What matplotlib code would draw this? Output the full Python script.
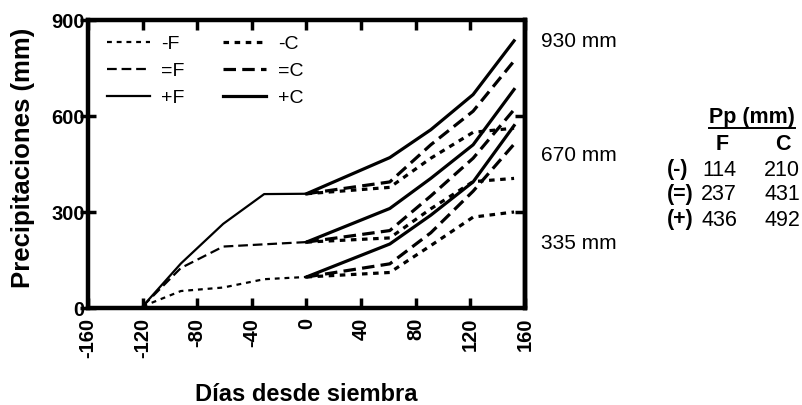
import matplotlib
matplotlib.use('Agg')
import matplotlib.pyplot as plt
from matplotlib.lines import Line2D

plt.rcParams['font.family'] = ['Liberation Sans', 'DejaVu Sans']
plt.rcParams['lines.scale_dashes'] = False
plt.rcParams['axes.unicode_minus'] = False

# pre-sowing (barbecho, thin lines)
dias_pre = [-120, -92, -61, -31, 0]
pre_menos_F = [5, 53, 64, 90, 97]
pre_igual_F = [5, 125, 192, 199, 206]
pre_mas_F = [5, 139, 263, 356, 357]

# post-sowing (cultivo, thick lines), one set per starting level
dias_post = [0, 61, 91, 122, 152]
bajo_menos_C = [97, 111, 195, 284, 300]
bajo_igual_C = [97, 138, 235, 365, 512]
bajo_mas_C = [97, 200, 290, 394, 570]
medio_menos_C = [206, 219, 310, 395, 405]
medio_igual_C = [206, 242, 350, 468, 620]
medio_mas_C = [206, 311, 405, 510, 683]
alto_menos_C = [357, 377, 468, 549, 562]
alto_igual_C = [357, 394, 510, 615, 772]
alto_mas_C = [357, 470, 557, 667, 835]

totales = ['930 mm', '670 mm', '335 mm']
totales_y = [834, 478, 201]

filas = ['(-)', '(=)', '(+)']
pp_F = [114, 237, 436]
pp_C = [210, 431, 492]

W, H = 803, 405
fig = plt.figure(figsize=(W / 100, H / 100), dpi=100)
ax = fig.add_axes([88 / W, 1 - 308 / H, 437 / W, 288 / H])

thin = 1.6
thick = 2.3
sty_menosF = dict(color='black', lw=thin, dashes=(3.5, 3.5))
sty_igualF = dict(color='black', lw=thin, dashes=(7, 3.5))
sty_masF = dict(color='black', lw=thin)
sty_menosC = dict(color='black', lw=thick, dashes=(4, 4))
sty_igualC = dict(color='black', lw=thick, dashes=(9, 4.5))
sty_masC = dict(color='black', lw=thick)

h1, = ax.plot(dias_pre, pre_menos_F, label='-F', **sty_menosF)
h2, = ax.plot(dias_pre, pre_igual_F, label='=F', **sty_igualF)
h3, = ax.plot(dias_pre, pre_mas_F, label='+F', **sty_masF)

for s in [bajo_menos_C, medio_menos_C, alto_menos_C]:
    h4, = ax.plot(dias_post, s, label='-C', **sty_menosC)
for s in [bajo_igual_C, medio_igual_C, alto_igual_C]:
    h5, = ax.plot(dias_post, s, label='=C', **sty_igualC)
for s in [bajo_mas_C, medio_mas_C, alto_mas_C]:
    h6, = ax.plot(dias_post, s, label='+C', **sty_masC)

ax.set_xlim(-160, 160)
ax.set_ylim(0, 900)
ax.set_xticks(range(-160, 161, 40))
ax.set_yticks([0, 300, 600, 900])

for sp in ax.spines.values():
    sp.set_linewidth(3.2)

ax.tick_params(axis='x', direction='in', length=7, width=2.5, top=True,
               labelsize=14.5, labelrotation=90, pad=7)
ax.tick_params(axis='y', direction='inout', length=11, width=2.5,
               labelsize=14.5, pad=-3)
for lab in ax.get_xticklabels() + ax.get_yticklabels():
    lab.set_fontweight('bold')

sec = ax.secondary_yaxis('right')
sec.set_yticks([300, 600])
sec.set_yticklabels([])
sec.tick_params(direction='in', length=7, width=2.5)
sec.spines['right'].set_linewidth(3.2)

ax.set_xlabel('Días desde siembra', fontsize=17, fontweight='bold')
ax.set_ylabel('Precipitaciones (mm)', fontsize=18.5, fontweight='bold')
ax.xaxis.set_label_coords(0.5, -0.262)
ax.yaxis.set_label_coords(-0.121, 0.523)

ax.legend(handles=[h1, h2, h3, h4, h5, h6], ncol=2, frameon=False,
          loc='upper left', bbox_to_anchor=(0.043, 0.948), fontsize=14,
          handlelength=2.2, handletextpad=0.6, columnspacing=2.0,
          labelspacing=0.5, borderpad=0, borderaxespad=0)

for t, y in zip(totales, totales_y):
    ax.text(1.037, y, t, transform=ax.get_yaxis_transform(), fontsize=15,
            va='center', ha='left', clip_on=False)

# table at the right
def fx(px):
    return px / W

def fy(py):
    return 1 - py / H

fs_tab = 15.5
hdr = fig.text(fx(752), fy(118), 'Pp (mm)', fontsize=fs_tab, fontweight='bold',
               ha='center', va='center')
fig.text(fx(722), fy(144), 'F', fontsize=fs_tab, fontweight='bold', ha='center', va='center')
fig.text(fx(783), fy(144), 'C', fontsize=fs_tab, fontweight='bold', ha='center', va='center')
for i, (f, a, b) in enumerate(zip(filas, pp_F, pp_C)):
    yy = fy(170 + i * 25)
    fig.text(fx(667), yy, f, fontsize=fs_tab, fontweight='bold', ha='left', va='center')
    fig.text(fx(737), yy, str(a), fontsize=fs_tab, ha='right', va='center')
    fig.text(fx(800), yy, str(b), fontsize=fs_tab, ha='right', va='center')

fig.canvas.draw()
bb = hdr.get_window_extent()
fig.add_artist(Line2D([bb.x0 / W, bb.x1 / W], [(bb.y0 + 1) / H, (bb.y0 + 1) / H],
                      color='black', lw=1.4, transform=fig.transFigure))

fig.savefig('out.png', dpi=100)
